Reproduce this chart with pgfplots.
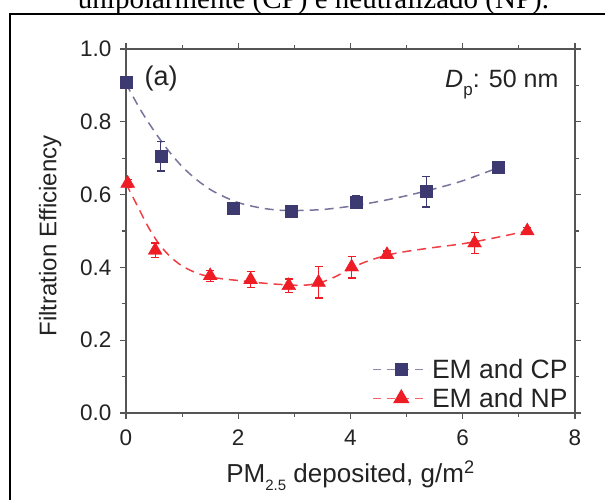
\documentclass[border=0pt]{standalone}
\usepackage{pgfplots}
\pgfplotsset{compat=1.18}
\usepackage{fontspec}
\setmainfont{Liberation Sans}
\newfontfamily\capserif{Liberation Serif}

\definecolor{cpblue}{RGB}{60,58,112}
\definecolor{npred}{RGB}{238,28,36}
\definecolor{axgray}{RGB}{85,85,85}
\definecolor{txt}{RGB}{35,35,35}

% measured filtration efficiency, charged (CP) and neutralised (NP) particles
\pgfplotstableread{
x     y      e
0.00  0.909  0.008
0.62  0.705  0.040
1.91  0.562  0.012
2.95  0.555  0.012
4.10  0.580  0.017
5.35  0.608  0.042
6.63  0.674  0.008
}\cpdata
\pgfplotstableread{
x     y      e
0.03  0.631  0.010
0.52  0.447  0.020
1.50  0.377  0.015
2.22  0.366  0.022
2.90  0.350  0.018
3.43  0.359  0.043
4.02  0.401  0.030
4.65  0.435  0.010
6.21  0.467  0.029
7.15  0.500  0.010
}\npdata

\begin{document}
\begin{tikzpicture}
\useasboundingbox (0pt,0pt) rectangle (605pt,500pt);

\begin{axis}[
  at={(126pt,87pt)}, anchor=south west,
  scale only axis, width=449pt, height=364pt,
  xmin=0, xmax=8, ymin=0, ymax=1,
  xtick={0,2,4,6,8}, minor xtick={1,3,5,7},
  ytick={0,0.2,0.4,0.6,0.8,1.0}, minor ytick={0.1,0.3,0.5,0.7,0.9},
  yticklabel style={xshift=-5pt, /pgf/number format/.cd, fixed, fixed zerofill, precision=1},
  xticklabel style={yshift=-7pt},
  /pgf/number format/assume math mode=true,
  tick align=outside,
  major tick length=6pt, minor tick length=4pt,
  axis line style={axgray, line width=1.3pt},
  every tick/.style={axgray, line width=1.2pt},
  tick label style={font=\fontsize{22.5}{25}\selectfont, text=txt},
  xlabel={PM\raisebox{-0.32em}{\fontsize{15}{15}\selectfont 2.5} deposited, g/m\textsuperscript{2}},
  ylabel={Filtration Efficiency},
  xlabel style={at={(axis description cs:0.5,-0.19)}, anchor=base,
    font=\fontsize{26}{30}\selectfont, text=txt},
  ylabel style={at={(axis description cs:-0.169,0.486)}, anchor=center,
    font=\fontsize{24}{28}\selectfont, text=txt},
  legend style={draw=none, fill=none, font=\fontsize{26.5}{29}\selectfont,
    text=txt, at={(0.995,0.0)}, anchor=south east, row sep=4pt},
  legend cell align=left,
  legend image code/.code={\draw[mark repeat=2, mark phase=2, #1]
    plot coordinates {(0pt,0pt) (28pt,0pt) (56pt,0pt)};},
]

% fitted trends
\addplot[cpblue!70, line width=1.5pt, dash pattern=on 9pt off 6pt, smooth, no marks, forget plot]
  coordinates {(0,0.905) (0.25,0.835) (0.5,0.775) (0.75,0.722) (1.0,0.677) (1.25,0.642)
    (1.5,0.614) (1.75,0.594) (2.0,0.578) (2.25,0.568) (2.5,0.561) (2.75,0.557) (3.0,0.556)
    (3.5,0.559) (4.0,0.568) (4.5,0.581) (5.0,0.597) (5.5,0.616) (6.0,0.638) (6.6,0.672)};
\addplot[npred!85, line width=1.5pt, dash pattern=on 9pt off 6pt, smooth, no marks, forget plot]
  coordinates {(0,0.630) (0.2,0.570) (0.4,0.510) (0.6,0.462) (0.8,0.428) (1.0,0.404)
    (1.25,0.385) (1.5,0.374) (1.75,0.368) (2.0,0.364) (2.5,0.356) (3.0,0.351) (3.25,0.352)
    (3.5,0.360) (3.75,0.376) (4.0,0.397) (4.25,0.414) (4.5,0.427) (4.75,0.437) (5.0,0.444)
    (5.5,0.455) (6.0,0.465) (6.5,0.479) (7.15,0.500)};

% measurements with error bars
\addplot[cpblue, only marks, mark=square*, mark size=6pt, forget plot,
  error bars/.cd, y dir=both, y explicit,
  error bar style={line width=1.2pt},
  error mark options={rotate=90, mark size=4pt, line width=1.2pt}]
  table[x=x, y=y, y error=e] {\cpdata};
\addplot[npred, only marks, mark=triangle*, mark size=8pt, forget plot,
  error bars/.cd, y dir=both, y explicit,
  error bar style={line width=1.2pt},
  error mark options={rotate=90, mark size=4pt, line width=1.2pt}]
  table[x=x, y=y, y error=e] {\npdata};

\addlegendimage{cpblue!60, line width=1.5pt, dash pattern=on 8pt off 6pt, mark=square*, mark size=6pt, mark options={cpblue, solid}}
\addlegendentry{EM and CP}
\addlegendimage{npred!70, line width=1.5pt, dash pattern=on 8pt off 6pt, mark=triangle*, mark size=8pt, mark options={npred, solid}}
\addlegendentry{EM and NP}

\node[font=\fontsize{27}{30}\selectfont, text=txt] at (axis description cs:0.078,0.92) {(a)};
\node[anchor=base east, font=\fontsize{25}{30}\selectfont, text=txt]
  at (axis description cs:0.971,0.893) {\textit{D}\raisebox{-0.3em}{\fontsize{17}{17}\selectfont p}: 50 nm};
\end{axis}

% frame and caption line of the surrounding page
\begin{scope}
  \clip (0pt,0pt) rectangle (605pt,500pt);
  \node[anchor=base, inner sep=0pt, font=\capserif\fontsize{29}{34}\selectfont]
    at (313.5pt,491.5pt) {unipolarmente (CP) e neutralizado (NP).};
  \draw[line width=2.4pt] (10pt,-10pt) -- (10pt,486pt) -- (620pt,486pt);
\end{scope}
\end{tikzpicture}
\end{document}
